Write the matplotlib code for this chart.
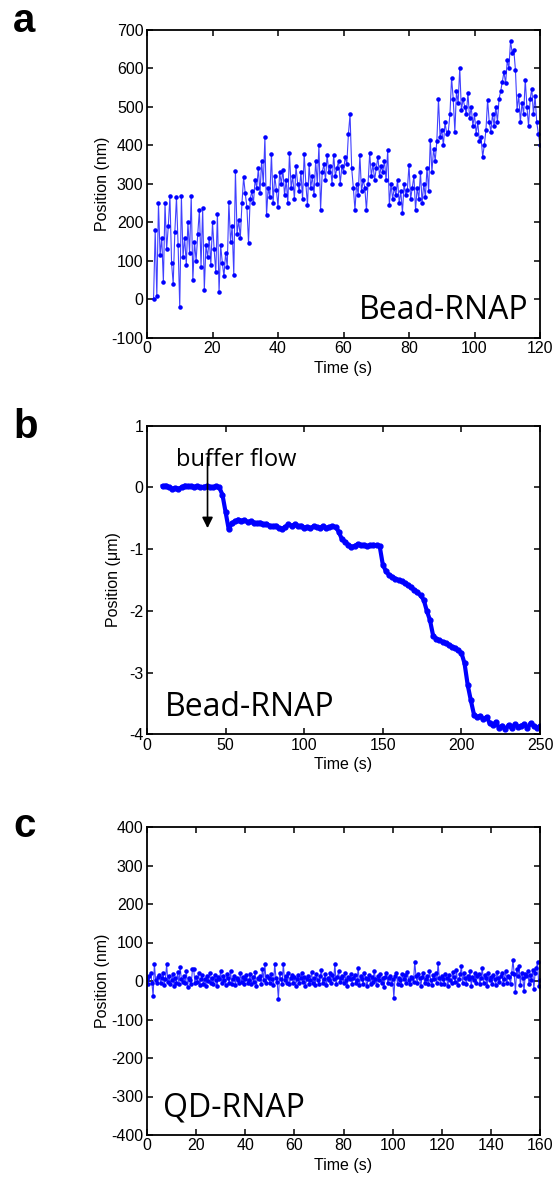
import numpy as np
import matplotlib
matplotlib.use("Agg")
import matplotlib.pyplot as plt

# panel a: bead-tethered RNAP, position (nm) sampled every 0.5 s from t = 2 s
a_t0, a_dt = 2.0, 0.5
a_pos = [
    0, 180, 8, 250, 115, 160, 45, 250, 130, 190,
    268, 95, 40, 175, 265, 140, -20, 268, 110, 160,
    90, 200, 120, 268, 50, 150, 100, 170, 232, 85,
    236, 25, 140, 110, 160, 90, 200, 130, 70, 222,
    18, 140, 95, 60, 120, 85, 253, 150, 190, 63,
    333, 170, 205, 160, 250, 317, 275, 240, 147, 260,
    280, 250, 310, 290, 340, 275, 360, 300, 420, 218,
    290, 265, 378, 250, 320, 285, 240, 330, 300, 336,
    270, 310, 250, 380, 290, 320, 260, 345, 300, 280,
    330, 260, 378, 300, 245, 350, 290, 320, 270, 360,
    300, 400, 232, 330, 350, 310, 375, 330, 345, 300,
    375, 320, 340, 360, 300, 345, 330, 370, 350, 429,
    480, 340, 290, 232, 300, 270, 375, 280, 310, 290,
    232, 300, 380, 320, 350, 310, 340, 370, 320, 345,
    330, 360, 310, 388, 245, 300, 260, 290, 270, 310,
    250, 280, 225, 300, 270, 285, 349, 260, 290, 320,
    232, 290, 260, 330, 250, 300, 265, 342, 280, 414,
    330, 390, 360, 410, 520, 420, 440, 400, 460, 430,
    435, 480, 575, 520, 435, 540, 510, 600, 490, 520,
    500, 480, 535, 470, 500, 450, 480, 430, 460, 410,
    420, 370, 400, 440, 518, 460, 435, 480, 450, 500,
    461, 520, 540, 565, 590, 560, 620, 600, 670, 640,
    647, 595, 492, 530, 460, 510, 480, 570, 500, 450,
    520, 547, 480, 527, 460, 430, 400,
]

# panel b: bead-RNAP under buffer flow, position (um) every 2 s from t = 10 s
b_t0, b_dt = 10.0, 2.0
b_pos = [
    0.02, 0.03, 0.0, -0.02, -0.01, -0.02, 0.0, 0.03, 0.02, 0.02,
    0.01, 0.02, 0.0, 0.01, 0.02, 0.01, 0.0, 0.02, 0.0, -0.12,
    -0.4, -0.68, -0.58, -0.55, -0.52, -0.54, -0.53, -0.56, -0.55, -0.57,
    -0.58, -0.57, -0.6, -0.59, -0.62, -0.63, -0.62, -0.66, -0.67, -0.64,
    -0.6, -0.62, -0.6, -0.63, -0.62, -0.65, -0.64, -0.66, -0.63, -0.64,
    -0.65, -0.63, -0.66, -0.64, -0.63, -0.64, -0.72, -0.84, -0.88, -0.93,
    -0.96, -0.95, -0.92, -0.94, -0.93, -0.95, -0.94, -0.93, -0.94, -0.95,
    -1.25, -1.36, -1.42, -1.45, -1.48, -1.5, -1.52, -1.55, -1.58, -1.62,
    -1.66, -1.7, -1.75, -1.82, -2.0, -2.15, -2.4, -2.45, -2.48, -2.5,
    -2.52, -2.55, -2.58, -2.6, -2.64, -2.68, -2.85, -3.2, -3.45, -3.68,
    -3.72, -3.7, -3.76, -3.72, -3.82, -3.85, -3.8, -3.9, -3.86, -3.92,
    -3.85, -3.9, -3.84, -3.88, -3.86, -3.84, -3.9, -3.82, -3.86, -3.9,
    -3.87,
]

# panel c: QD-RNAP, position (nm) every 0.5 s from t = 0 s
c_t0, c_dt = 0.0, 0.5
c_pos = [
    5, -8, 12, 20, -5, -40, 44, 3, -6, 10, 15, -4, 8, 22, -10, 6, 43, -3, 12, -7,
    2, 18, -12, 9, -4, 24, -8, 36, 5, -2, 14, -6, 26, -15, 8, 3, -9, 30, 32, -5,
    10, -3, 20, -10, 6, 15, -7, 4, -12, 12, 0, 22, -5, 8, -9, 16, 2, -14, 10, 5,
    25, -6, 12, 3, -10, 18, 7, -4, 27, -8, 5, 14, -11, 9, 2, -6, 20, -3, 11, -9,
    6, 15, -5, 2, 19, -8, 10, -2, 24, -12, 7, 4, 13, -7, 30, 2, 43, -5, 12, 8,
    -6, 18, 5, -10, 44, 9, -3, -47, 20, 6, -8, 44, 3, 12, -5, 22, -9, 7, 15, -4,
    10, -12, 4, 16, -6, 8, 20, -3, 11, -14, 5, 14, -7, 2, 24, -5, 9, -10, 17, 3,
    -8, 12, 28, -4, 6, 19, -11, 8, 2, 22, -6, 15, 4, 45, -9, 10, 25, -3, 7, 14,
    -5, 20, 3, -12, 11, 6, 18, -8, 9, 16, -4, 2, 34, -10, 12, 5, -7, 21, 8, -14,
    4, 15, -9, 10, -3, 26, 6, -11, 13, 2, 19, -6, 8, -16, 11, 22, -4, 7, 14, -8,
    5, -44, 12, 20, -7, 9, 3, -10, 17, 6, 15, -5, 24, 2, -9, 11, 8, -3, 50, 14,
    -6, 18, 7, -12, 10, 22, -4, 5, 13, -8, 25, 3, -10, 16, 6, 20, -5, 47, 9, -7,
    12, 4, -9, 19, 8, -14, 15, 2, -6, 23, 10, -3, 28, -11, 6, 17, 38, -5, 20, 9,
    -8, 14, 5, 26, -12, 10, 3, 21, -6, 12, 18, -9, 7, 34, -4, 15, 8, -13, 22, 2,
    11, -7, 16, 4, -10, 24, 9, -3, 13, 20, -8, 6, 27, -5, 14, 10, -9, 21, 55, 18,
    -28, 30, 14, 38, -10, 22, 8, -26, 17, 12, 25, -7, 15, 3, 28, -20, 20, 33, 50, -12,
    2,
]

arrow_x = 38.5
arrow_y = (0.48, -0.66)

plt.rcParams['font.family'] = ['Liberation Sans', 'DejaVu Sans']
plt.rcParams['font.size'] = 11.5
plt.rcParams['axes.unicode_minus'] = False

fig = plt.figure(figsize=(5.56, 11.77), dpi=100)

W, H = 556.0, 1177.0
def rect(left, top, right, bottom):
    return [left / W, 1 - bottom / H, (right - left) / W, (bottom - top) / H]

blue = (0, 0, 1)
label_font = ['Open Sans', 'DejaVu Sans']


def style(ax):
    ax.tick_params(direction='in', top=True, right=True, length=4, width=1.1,
                   pad=2.5, labelsize=11.5)
    for s in ax.spines.values():
        s.set_linewidth(1.3)


# ---- a
ax = fig.add_axes(rect(147, 29.5, 540, 338))
ta = a_t0 + a_dt * np.arange(len(a_pos))
ax.plot(ta, a_pos, '-', color=blue, lw=0.8, alpha=0.75)
ax.plot(ta, a_pos, '.', color=blue, ms=4.5)
ax.set_xlim(0, 120)
ax.set_ylim(-100, 700)
ax.set_xticks(np.arange(0, 121, 20))
ax.set_yticks(np.arange(-100, 701, 100))
ax.set_xlabel('Time (s)', labelpad=3)
ax.set_ylabel('Position (nm)', labelpad=1)
ax.text(0.97, 0.06, 'Bead-RNAP', transform=ax.transAxes, ha='right', va='baseline',
        fontsize=23, family=label_font)
style(ax)
fig.text(13 / W, 1 - 32 / H, 'a', fontsize=29, fontweight='bold', va='baseline')

# ---- b
ax = fig.add_axes(rect(147, 425.7, 540, 734.3))
tb = b_t0 + b_dt * np.arange(len(b_pos))
ax.plot(tb, b_pos, '-', color=blue, lw=3)
ax.plot(tb, b_pos, '.', color=blue, ms=7)
ax.set_xlim(0, 250)
ax.set_ylim(-4, 1)
ax.set_xticks(np.arange(0, 251, 50))
ax.set_yticks(np.arange(-4, 2, 1))
ax.set_xlabel('Time (s)', labelpad=3)
ax.set_ylabel('Position (\u03bcm)', labelpad=6)
ax.text(0.045, 0.06, 'Bead-RNAP', transform=ax.transAxes, ha='left', va='baseline',
        fontsize=23, family=label_font)
ax.text(0.075, 0.87, 'buffer flow', transform=ax.transAxes, ha='left', va='baseline',
        fontsize=17, family=label_font)
ax.annotate('', xy=(arrow_x, arrow_y[1]), xytext=(arrow_x, arrow_y[0]),
            arrowprops=dict(arrowstyle='-|>', color='k', lw=1.2,
                            mutation_scale=16, shrinkA=0, shrinkB=0))
style(ax)
fig.text(13 / W, 1 - 438 / H, 'b', fontsize=29, fontweight='bold', va='baseline')

# ---- c
ax = fig.add_axes(rect(147, 827, 540, 1135))
tc = c_t0 + c_dt * np.arange(len(c_pos))
ax.plot(tc, c_pos, '-', color=blue, lw=0.8, alpha=0.75)
ax.plot(tc, c_pos, '.', color=blue, ms=4.5)
ax.set_xlim(0, 160)
ax.set_ylim(-400, 400)
ax.set_xticks(np.arange(0, 161, 20))
ax.set_yticks(np.arange(-400, 401, 100))
ax.set_xlabel('Time (s)', labelpad=3)
ax.set_ylabel('Position (nm)', labelpad=1)
ax.text(0.04, 0.06, 'QD-RNAP', transform=ax.transAxes, ha='left', va='baseline',
        fontsize=23, family=label_font)
style(ax)
fig.text(13 / W, 1 - 837 / H, 'c', fontsize=29, fontweight='bold', va='baseline')

fig.savefig('out.png', dpi=100)
